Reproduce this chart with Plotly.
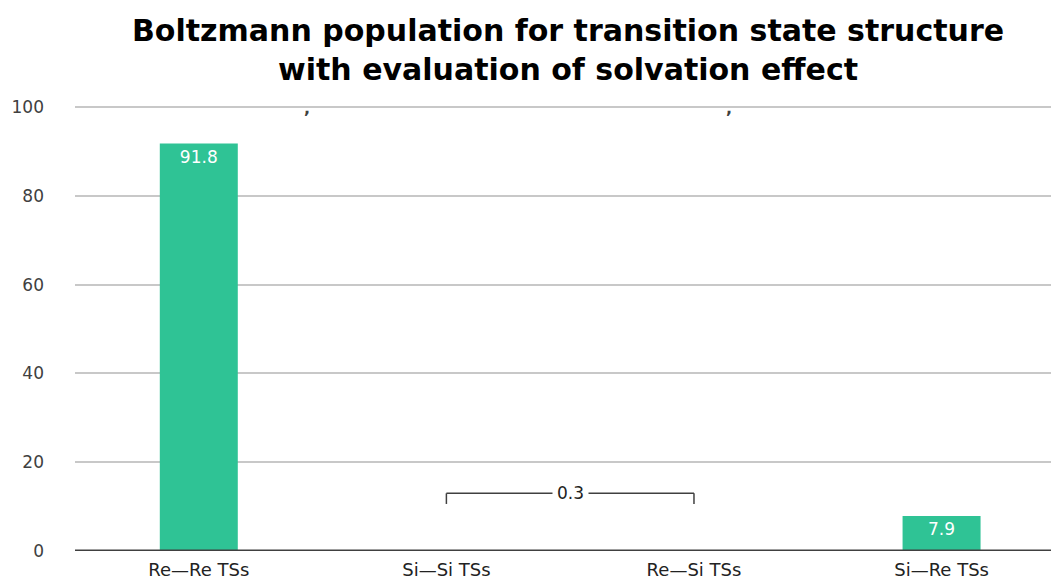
import plotly.graph_objects as go

# Boltzmann populations (%) of the transition-state families
categories = ["Re—Re TSs", "Si—Si TSs", "Re—Si TSs", "Si—Re TSs"]
population = [91.8, 0.15, 0.15, 7.9]
labels = ["91.8", "", "", "7.9"]
y_ticks = [0, 20, 40, 60, 80, 100]

# the two minor families share one combined label
minor_pair = [1, 2]
minor_total = round(population[1] + population[2], 1)

BAR = "#2FC395"
INK = "#404040"
FONT = "DejaVu Sans"

fig = go.Figure(
    go.Bar(
        x=list(range(len(categories))),
        y=population,
        width=0.315,
        marker=dict(color=BAR, line=dict(width=0)),
        text=labels,
        textposition="inside",
        insidetextanchor="end",
        textfont=dict(color="white", size=17, family=FONT),
        cliponaxis=False,
    )
)

# baseline drawn over the bars
fig.add_shape(type="line", xref="paper", yref="y", x0=0, x1=1, y0=0, y1=0,
              layer="above", line=dict(color=INK, width=3))

# bracket over the two near-zero bars
bracket_y = 13
drop = 2.4
fig.add_shape(type="line", xref="x", yref="y",
              x0=minor_pair[0], x1=minor_pair[1], y0=bracket_y, y1=bracket_y,
              line=dict(color=INK, width=1.5))
for xi in minor_pair:
    fig.add_shape(type="line", xref="x", yref="y",
                  x0=xi, x1=xi, y0=bracket_y, y1=bracket_y - drop,
                  line=dict(color=INK, width=1.5))
fig.add_annotation(x=sum(minor_pair) / 2, y=bracket_y, xref="x", yref="y",
                   text=f"{minor_total}", showarrow=False,
                   bgcolor="white", borderpad=4,
                   font=dict(size=17, color="#222", family=FONT))

for xc in [0.436, 2.14]:
    fig.add_annotation(x=xc, y=99.6, xref="x", yref="y", text="<b>,</b>",
                       showarrow=False, font=dict(size=16, color=INK, family=FONT))

# chart title
fig.add_annotation(
    text="<b>Boltzmann population for transition state structure<br>with evaluation of solvation effect</b>",
    xref="paper", yref="paper", x=0.505, y=1.123,
    xanchor="center", yanchor="middle", showarrow=False,
    font=dict(size=30, color="black", family=FONT),
)

fig.update_layout(
    width=1051, height=587,
    margin=dict(l=75, r=0, t=105, b=36),
    paper_bgcolor="white", plot_bgcolor="white",
    showlegend=False,
    xaxis=dict(
        range=[-0.5, 3.442],
        tickmode="array",
        tickvals=list(range(len(categories))),
        ticktext=categories,
        showgrid=False, zeroline=False, showline=False,
        ticks="", ticklabelstandoff=6, automargin=False,
        tickfont=dict(size=18, color="#222", family=FONT),
    ),
    yaxis=dict(
        range=[0, 100.5],
        tickmode="array", tickvals=y_ticks,
        showgrid=True, gridcolor="#C8C8C8", gridwidth=2,
        zeroline=False, showline=False, ticks="",
        ticklabelstandoff=30, automargin=False,
        tickfont=dict(size=17, color=INK, family=FONT),
    ),
)

fig.write_html("out.html")
